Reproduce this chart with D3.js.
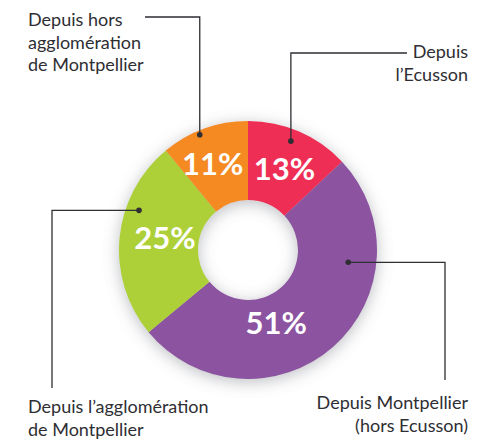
<!DOCTYPE html>
<html>
<head>
<meta charset="utf-8">
<script src="https://cdn.jsdelivr.net/npm/d3@7"></script>
<style>
  body { margin: 0; background: #fff; }
  svg { display: block; }
  .note { font-family: Lato, "Open Sans", sans-serif; font-size: 18px; fill: #2e2e33; }
  .pct { font-family: Lato, "Open Sans", sans-serif; font-size: 31px; font-weight: 700; fill: #fff; }
</style>
</head>
<body>
<div id="chart"></div>
<script>
// data, clockwise from 12 o'clock
var categories = ["Depuis l’Ecusson", "Depuis Montpellier (hors Ecusson)", "Depuis l’agglomération de Montpellier", "Depuis hors agglomération de Montpellier"];
var values = [13, 51, 25, 11];
var colors = ["#ee2d55", "#8c53a0", "#adcf38", "#f58a21"];
var labelLines = [
    ["Depuis", "l’Ecusson"],
    ["Depuis Montpellier", "(hors Ecusson)"],
    ["Depuis l’agglomération", "de Montpellier"],
    ["Depuis hors", "agglomération", "de Montpellier"]
];

var w = 481, h = 440;
var cx = 248, cy = 250;
var outerR = 129, innerR = 50;

// layout of the annotations (dot angle in degrees, radius; elbow; text anchor)
var notes = [
    { ang: 21.5, r: 117, elbow: [null, 53], end: [407, 53], tx: 468, ty: 58, anchor: "end" },
    { ang: 97, r: 101, elbow: [445, null], end: [445, 380], tx: 468, ty: 409, anchor: "end" },
    { ang: 290, r: 116, elbow: [52, null], end: [52, 388], tx: 28, ty: 413, anchor: "start" },
    { ang: -22.7, r: 125, elbow: [null, 17], end: [145, 17], tx: 28, ty: 26, anchor: "start" }
];
var pctNudge = [[1, 1], [-31, 6], [6, -4], [-5, -2]];

var svg = d3.select("#chart").append("svg")
    .attr("width", w)
    .attr("height", h);

var defs = svg.append("defs");
var f = defs.append("filter").attr("id", "shadow")
    .attr("x", "-30%").attr("y", "-30%").attr("width", "160%").attr("height", "160%");
f.append("feGaussianBlur").attr("in", "SourceAlpha").attr("stdDeviation", 8).attr("result", "b");
f.append("feOffset").attr("in", "b").attr("dx", 0).attr("dy", 3).attr("result", "o");
f.append("feFlood").attr("flood-color", "#6b6f78").attr("flood-opacity", 0.45).attr("result", "c");
f.append("feComposite").attr("in", "c").attr("in2", "o").attr("operator", "in").attr("result", "s");
var m = f.append("feMerge");
m.append("feMergeNode").attr("in", "s");
m.append("feMergeNode").attr("in", "SourceGraphic");

var pie = d3.pie().sort(null).value(function(d){ return d; });
var arc = d3.arc().innerRadius(innerR).outerRadius(outerR);
var labelArc = d3.arc().innerRadius((innerR + outerR) / 2).outerRadius((innerR + outerR) / 2);

var arcs = pie(values);

var g = svg.append("g").attr("transform", "translate(" + cx + "," + cy + ")");

g.append("g").attr("filter", "url(#shadow)")
    .selectAll("path")
    .data(arcs)
    .enter().append("path")
    .attr("d", arc)
    .attr("fill", function(d, i){ return colors[i]; });

g.selectAll(".pct")
    .data(arcs)
    .enter().append("text")
    .attr("class", "pct")
    .attr("text-anchor", "middle")
    .attr("dy", "0.36em")
    .attr("x", function(d, i){ return labelArc.centroid(d)[0] + pctNudge[i][0]; })
    .attr("y", function(d, i){ return labelArc.centroid(d)[1] + pctNudge[i][1]; })
    .text(function(d){ return d.data + "%"; });

// leader lines
notes.forEach(function(n, i){
    var a = n.ang * Math.PI / 180;
    var px = cx + n.r * Math.sin(a), py = cy - n.r * Math.cos(a);
    var ex = n.elbow[0] === null ? px : n.elbow[0];
    var ey = n.elbow[1] === null ? py : n.elbow[1];

    svg.append("path")
        .attr("d", d3.line()([[px, py], [ex, ey], n.end]))
        .attr("fill", "none")
        .attr("stroke", "#2e2e33")
        .attr("stroke-width", 1.3);

    svg.append("circle")
        .attr("cx", px).attr("cy", py).attr("r", 2.8)
        .attr("fill", "#2e2e33");

    var t = svg.append("text")
        .attr("class", "note")
        .attr("text-anchor", n.anchor)
        .attr("x", n.tx).attr("y", n.ty);
    t.selectAll("tspan")
        .data(labelLines[i])
        .enter().append("tspan")
        .attr("x", n.tx)
        .attr("dy", function(d, j){ return j === 0 ? 0 : 22.5; })
        .text(function(d){ return d; });
});
</script>
</body>
</html>
